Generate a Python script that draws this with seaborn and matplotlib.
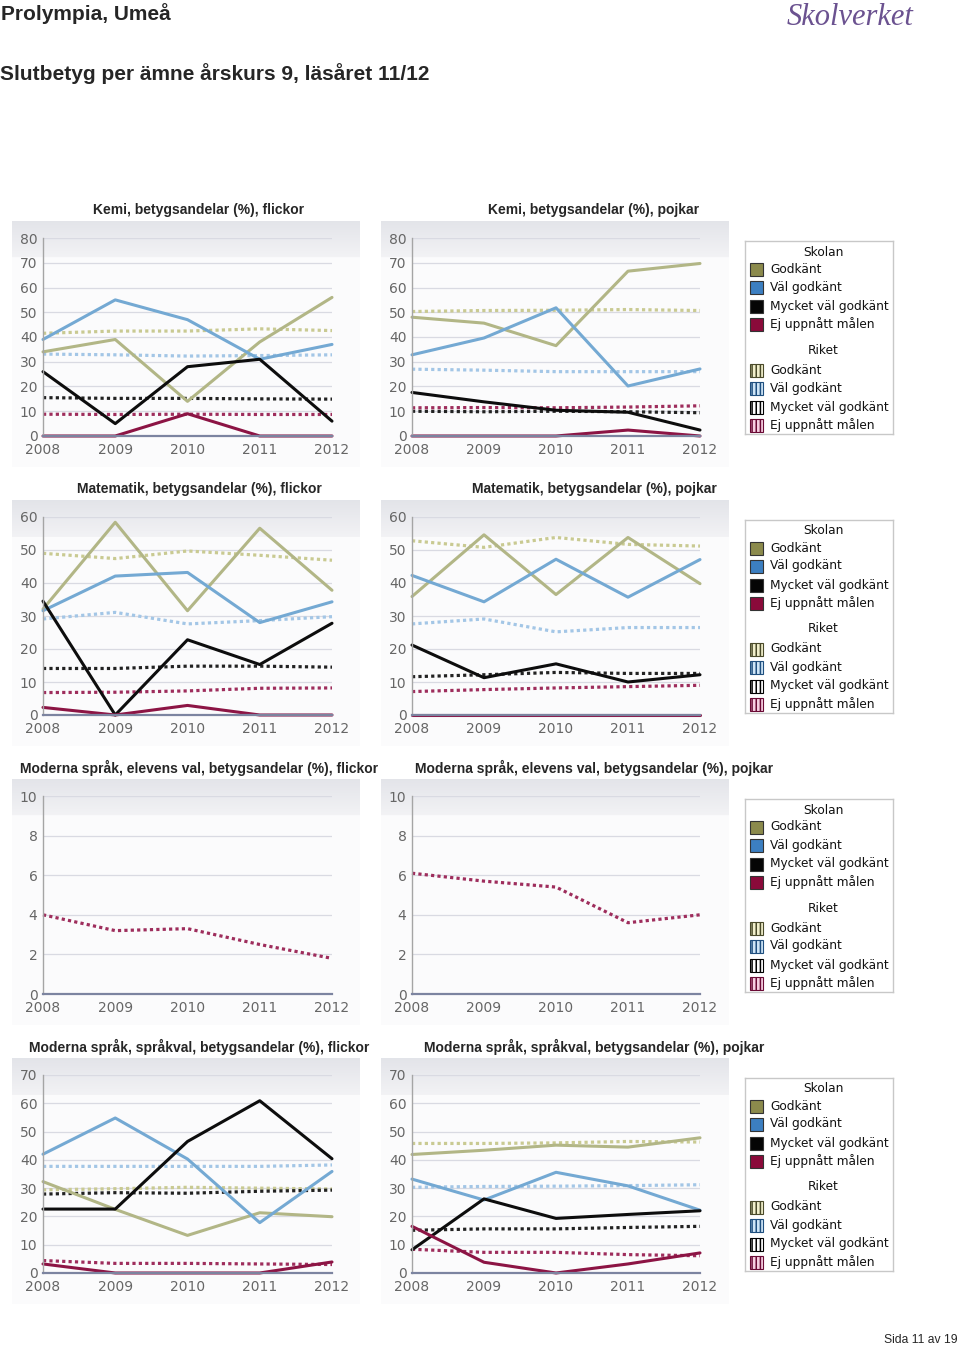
import numpy as np
import matplotlib
matplotlib.use("Agg")
import matplotlib.pyplot as plt
from matplotlib.patches import Rectangle
import seaborn as sns

# ---- data ----
years = [2008, 2009, 2010, 2011, 2012]
grades = ["Godkänt", "Väl godkänt", "Mycket väl godkänt", "Ej uppnått målen"]

# order in each list: Godkänt, Väl godkänt, Mycket väl godkänt, Ej uppnått målen
kemi_flickor_skolan = [[34, 39, 14, 38, 56], [39, 55, 47, 31, 37],
                       [26, 5, 28, 31, 6], [0, 0, 9, 0, 0]]
kemi_flickor_riket = [[41.5, 42.4, 42.4, 43.3, 42.6], [33.1, 32.8, 32.3, 32.5, 32.8],
                      [15.5, 15.2, 15.2, 15.0, 14.9], [8.8, 8.7, 8.8, 8.7, 8.7]]
kemi_pojkar_skolan = [[48, 45.6, 36.5, 66.6, 69.7], [32.8, 39.6, 51.8, 20.2, 27.1],
                      [17.6, 13.8, 10.4, 9.6, 2.4], [0, 0, 0, 2.4, 0]]
kemi_pojkar_riket = [[50.3, 50.7, 50.8, 51.1, 50.7], [27, 26.6, 26, 26, 26],
                     [10, 9.8, 10, 9.8, 9.4], [11.4, 11.5, 11.4, 11.7, 12.2]]
matte_flickor_skolan = [[32.1, 58.4, 31.6, 56.6, 37.8], [31.6, 42.1, 43.2, 28, 34.3],
                        [34.5, 0, 22.8, 15.3, 27.8], [2.3, 0, 2.9, 0, 0]]
matte_flickor_riket = [[49, 47.4, 49.7, 48.4, 46.9], [29.1, 31.1, 27.6, 28.6, 29.8],
                       [14.1, 14.1, 14.8, 14.8, 14.5], [6.8, 6.9, 7.3, 8.1, 8.2]]
matte_pojkar_skolan = [[35.9, 54.6, 36.5, 53.8, 39.8], [42.3, 34.3, 47.2, 35.7, 47.1],
                       [21.2, 11.3, 15.5, 10, 12.2], [0, 0, 0, 0, 0]]
matte_pojkar_riket = [[52.8, 50.8, 53.8, 51.7, 51.2], [27.6, 29.1, 25.2, 26.5, 26.5],
                      [11.6, 12.2, 12.9, 12.6, 12.6], [7.1, 7.7, 8.2, 8.6, 9.0]]
elevval_flickor_riket_ej = [4.0, 3.2, 3.3, 2.5, 1.8]
elevval_pojkar_riket_ej = [6.1, 5.7, 5.4, 3.6, 4.0]
sprakval_flickor_skolan = [[32.3, 22.5, 13.3, 21.3, 19.9], [42, 54.8, 40.3, 17.8, 35.9],
                           [22.6, 22.6, 46.5, 60.9, 40.4], [3.2, 0, 0, 0, 3.9]]
sprakval_flickor_riket = [[29.4, 29.8, 30.3, 30, 29.7], [37.7, 37.7, 37.7, 37.7, 38.2],
                          [27.9, 28.4, 28.2, 28.9, 29.3], [4.4, 3.4, 3.4, 3.2, 3.0]]
sprakval_pojkar_skolan = [[41.9, 43.4, 45.2, 44.5, 47.8], [33.2, 25.8, 35.6, 30.8, 22.2],
                          [8.2, 26.2, 19.3, 20.7, 22], [16.5, 3.8, 0, 3.2, 7.1]]
sprakval_pojkar_riket = [[45.8, 45.8, 46, 46.5, 46.3], [30.3, 30.6, 30.7, 30.9, 31.2],
                         [15.1, 15.6, 15.6, 16.1, 16.5], [8.4, 7.3, 7.3, 6.5, 6.1]]

titles = ["Kemi, betygsandelar (%), flickor", "Kemi, betygsandelar (%), pojkar",
          "Matematik, betygsandelar (%), flickor", "Matematik, betygsandelar (%), pojkar",
          "Moderna språk, elevens val, betygsandelar (%), flickor",
          "Moderna språk, elevens val, betygsandelar (%), pojkar",
          "Moderna språk, språkval, betygsandelar (%), flickor",
          "Moderna språk, språkval, betygsandelar (%), pojkar"]
ymax = [80, 80, 60, 60, 10, 10, 70, 70]
ystep = [10, 10, 10, 10, 2, 2, 10, 10]

skolan = [kemi_flickor_skolan, kemi_pojkar_skolan, matte_flickor_skolan, matte_pojkar_skolan,
          [None] * 4, [None] * 4, sprakval_flickor_skolan, sprakval_pojkar_skolan]
riket = [kemi_flickor_riket, kemi_pojkar_riket, matte_flickor_riket, matte_pojkar_riket,
         [None, None, None, elevval_flickor_riket_ej], [None, None, None, elevval_pojkar_riket_ej],
         sprakval_flickor_riket, sprakval_pojkar_riket]

school_colors = ["#b2b686", "#74a9d3", "#0d0d0d", "#8c1444"]
riket_colors = ["#c9ca92", "#a3c6e6", "#222222", "#9e2d5c"]
swatch_school = ["#8b8a4c", "#3c7fc1", "#050505", "#8a0a3a"]
swatch_riket_face = ["#f2f0cc", "#cfe6f7", "#ffffff", "#f7cfe2"]
swatch_riket_edge = ["#4a4a2a", "#1f4f7f", "#000000", "#6a0a35"]

# ---- figure ----
sns.set_style("white")
plt.rcParams["font.family"] = ["DejaVu Sans"]
plt.rcParams["hatch.linewidth"] = 1.1

W, H = 960, 1348
fig = plt.figure(figsize=(W / 100, H / 100), dpi=100)


def rect(x0, y0, w, h):
    return [x0 / W, 1 - (y0 + h) / H, w / W, h / H]


bold = dict(family="Liberation Sans", weight="bold")
fig.text(1 / W, 1 - 14 / H, "Prolympia, Umeå", fontsize=15, va="center", ha="left", **bold)
fig.text(0 / W, 1 - 74 / H, "Slutbetyg per ämne årskurs 9, läsåret 11/12", fontsize=15,
         va="center", ha="left", **bold)
fig.text(850 / W, 1 - 25 / H, "Skolverket", fontsize=22, style="italic", family="Liberation Serif",
         color="#6b5290", ha="center", va="baseline")
fig.text(958 / W, 1 - 1340 / H, "Sida 11 av 19", fontsize=8.7, family="Liberation Sans",
         ha="right", va="center")

# panel background gradient
ph = 246
grad = np.ones((ph, 1, 3))
band = 37
top_c = np.array([0.89, 0.895, 0.915])
band_end = np.array([0.95, 0.95, 0.96])
for i in range(band):
    t = i / (band - 1)
    grad[i, 0] = top_c * (1 - t) + band_end * t
for i in range(band, ph):
    grad[i, 0] = [0.985, 0.985, 0.99]

for k in range(8):
    r, c = divmod(k, 2)
    off = 279 * r
    px0 = 12 if c == 0 else 381
    bg = fig.add_axes(rect(px0, 221 + off, 348, ph), zorder=0)
    bg.imshow(grad, aspect="auto", interpolation="bilinear")
    bg.axis("off")

    left, right = (43, 332) if c == 0 else (412, 700)
    ax = fig.add_axes(rect(left, 238 + off, right - left, 198), zorder=1)
    ax.set_facecolor("none")

    for g in range(4):
        vals = riket[k][g]
        if vals is not None:
            sns.lineplot(x=years, y=vals, ax=ax, color=riket_colors[g], linewidth=2.3,
                         linestyle=(0, (1, 1)), dash_capstyle="butt", clip_on=False, legend=False)
    for g in range(4):
        vals = skolan[k][g]
        if vals is not None:
            sns.lineplot(x=years, y=vals, ax=ax, color=school_colors[g], linewidth=2.2,
                         clip_on=False, legend=False)

    ax.set_xlim(2008, 2012)
    ax.set_ylim(0, ymax[k])
    ax.set_xticks(years)
    ax.set_yticks(np.arange(0, ymax[k] + 1, ystep[k]))
    ax.yaxis.grid(True, color="#d9dae2", linewidth=0.9)
    ax.xaxis.grid(False)
    ax.set_axisbelow(True)
    for s in ["top", "right"]:
        ax.spines[s].set_visible(False)
    ax.spines["left"].set_color("#a5a5a5")
    ax.spines["left"].set_linewidth(1)
    ax.spines["bottom"].set_color("#7c84a0")
    ax.spines["bottom"].set_linewidth(1.6)
    ax.tick_params(axis="both", length=0, labelsize=10, labelcolor="#666666")
    ax.tick_params(axis="y", pad=4)
    ax.tick_params(axis="x", pad=5)
    ax.set_xlabel("")
    ax.set_ylabel("")

    tcx = 199 if c == 0 else 594
    fig.text(tcx / W, 1 - (210 + off) / H, titles[k], fontsize=10, ha="center", va="center", **bold)

# legends, one per row
for r in range(4):
    off = 279 * r
    lg = fig.add_axes(rect(745, 241 + off, 148, 193), zorder=2)
    lg.set_xlim(0, 148)
    lg.set_ylim(193, 0)
    lg.set_xticks([])
    lg.set_yticks([])
    lg.set_facecolor("white")
    for s in lg.spines.values():
        s.set_color("#c8c8c8")
        s.set_linewidth(1)
    lg.text(78, 11, "Skolan", fontsize=8.7, ha="center", va="center", color="#111111")
    lg.text(78, 109, "Riket", fontsize=8.7, ha="center", va="center", color="#111111")
    ys_s = [28, 46, 65, 83]
    ys_r = [129, 147, 166, 184]
    for g in range(4):
        lg.add_patch(Rectangle((5, ys_s[g] - 6.5), 13, 13, facecolor=swatch_school[g],
                               edgecolor="#333333", linewidth=0.8))
        lg.text(25, ys_s[g], grades[g], fontsize=8.7, ha="left", va="center", color="#111111")
        lg.add_patch(Rectangle((5, ys_r[g] - 6.5), 13, 13, facecolor=swatch_riket_face[g],
                               edgecolor=swatch_riket_edge[g], hatch="||||", linewidth=0.8))
        lg.text(25, ys_r[g], grades[g], fontsize=8.7, ha="left", va="center", color="#111111")

fig.savefig("out.png", dpi=100)
